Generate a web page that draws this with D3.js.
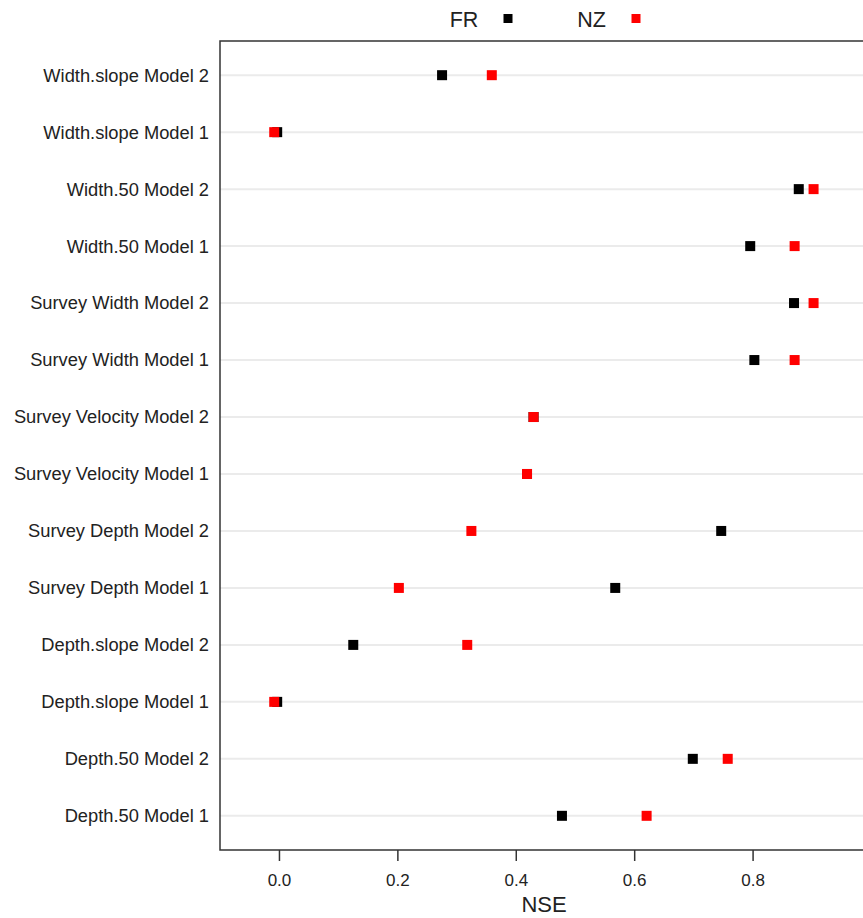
<!DOCTYPE html>
<html><head><meta charset="utf-8">
<script src="https://cdn.jsdelivr.net/npm/d3@7"></script>
<style>body{margin:0;background:#fff;}svg{display:block;font-family:"Liberation Sans",Arial,sans-serif;}</style>
</head><body><div id="chart"></div>
<script>
const categories = ["Depth.50 Model 1","Depth.50 Model 2","Depth.slope Model 1","Depth.slope Model 2","Survey Depth Model 1","Survey Depth Model 2","Survey Velocity Model 1","Survey Velocity Model 2","Survey Width Model 1","Survey Width Model 2","Width.50 Model 1","Width.50 Model 2","Width.slope Model 1","Width.slope Model 2"];
const seriesNames = ["FR","NZ"];
const frValues = [0.478,0.699,-0.003,0.1255,0.568,0.747,0.419,0.430,0.803,0.870,0.796,0.878,-0.003,0.2755];
const nzValues = [0.621,0.758,-0.008,0.318,0.2025,0.325,0.419,0.430,0.871,0.903,0.871,0.903,-0.008,0.3595];
const xTicks = [0.0,0.2,0.4,0.6,0.8];
const colors = {FR:"#000000", NZ:"#ff0000"};

const W = 863, H = 918;
const margin = {left:220, top:41, bottom:68};
const svg = d3.select("#chart").append("svg").attr("width",W).attr("height",H);

const x = d3.scaleLinear().domain([-0.0996, 0.9865]).range([margin.left, W]);
const y = d3.scaleLinear().domain([0.4, categories.length + 0.6]).range([H - margin.bottom, margin.top]);

// gridlines
svg.append("g").selectAll("line").data(categories).join("line")
  .attr("x1", margin.left).attr("x2", W)
  .attr("y1", (d,i)=>y(i+1)).attr("y2", (d,i)=>y(i+1))
  .attr("stroke","#ebebeb").attr("stroke-width",2);

// y labels
svg.append("g").selectAll("text").data(categories).join("text")
  .attr("x", 209).attr("y",(d,i)=>y(i+1)).attr("dy","0.35em")
  .attr("text-anchor","end").attr("font-size",18.3).attr("fill","#222")
  .text(d=>d);

// x axis
const xAxis = d3.axisBottom(x).tickValues(xTicks).tickFormat(d3.format(".1f")).tickSize(11).tickPadding(13);
const gx = svg.append("g").attr("transform",`translate(0,${H-margin.bottom})`).call(xAxis);
gx.select(".domain").remove();
gx.selectAll(".tick line").attr("stroke","#333").attr("stroke-width",1.5);
gx.selectAll(".tick text").attr("font-size",17).attr("fill","#222").attr("font-family","Liberation Sans, Arial, sans-serif");

// panel border (top, left, bottom)
svg.append("path")
  .attr("d",`M${W},${margin.top}H${margin.left}V${H-margin.bottom}H${W}`)
  .attr("fill","none").attr("stroke","#333").attr("stroke-width",1.5);

// points
const sz = 10;
[["FR",frValues],["NZ",nzValues]].forEach(([name,vals])=>{
  svg.append("g").selectAll("rect").data(vals).join("rect")
    .attr("x",d=>x(d)-sz/2).attr("y",(d,i)=>y(i+1)-sz/2)
    .attr("width",sz).attr("height",sz)
    .attr("fill",colors[name]);
});

// axis title
svg.append("text").attr("x",544).attr("y",912).attr("text-anchor","middle")
  .attr("font-size",22).attr("fill","#222").text("NSE");

// legend
const legendPos = {FR:{tx:464, sx:508}, NZ:{tx:591.5, sx:636}};
seriesNames.forEach(n=>{
  svg.append("text").attr("x",legendPos[n].tx).attr("y",19).attr("dy","0.35em")
    .attr("text-anchor","middle").attr("font-size",21.5).attr("fill","#222").text(n);
  svg.append("rect").attr("x",legendPos[n].sx-4.5).attr("y",14).attr("width",9).attr("height",9).attr("fill",colors[n]);
});
</script></body></html>
